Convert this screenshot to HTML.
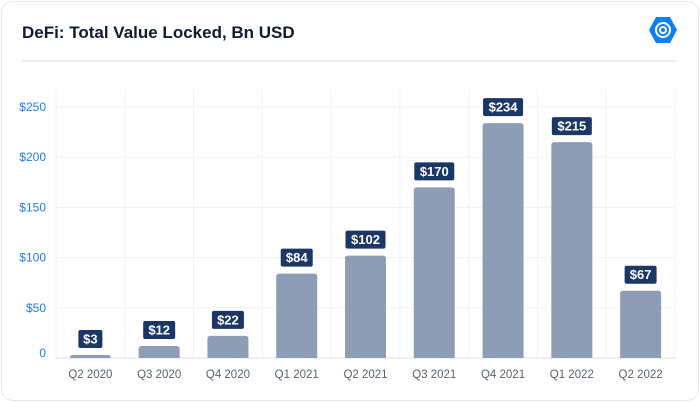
<!DOCTYPE html>
<html><head><meta charset="utf-8"><style>
body{margin:0;background:#fff;}
.card{position:absolute;left:1px;top:1px;width:696px;height:398px;border:1px solid #e6e8ec;border-radius:12px;background:#fff;}
</style></head><body>
<div class="card"></div>
<svg width="700" height="402" style="position:absolute;left:0;top:0" font-family="Liberation Sans, sans-serif">
<text x="22" y="38" font-size="17" font-weight="bold" fill="#111a33">DeFi: Total Value Locked, Bn USD</text>
<g>
<polygon points="656,17 670,17 677,30 670,43 656,43 649,30" fill="#0a80f5"/>
<circle cx="663" cy="30" r="7" fill="none" stroke="#fff" stroke-width="2"/>
<circle cx="663" cy="30" r="3" fill="none" stroke="#fff" stroke-width="2"/>
</g>
<line x1="22" y1="61" x2="676" y2="61" stroke="#eceef1" stroke-width="2"/>
<g id="grid"></g><g id="bars"></g>
</svg>
<script>
const categories=["Q2 2020","Q3 2020","Q4 2020","Q1 2021","Q2 2021","Q3 2021","Q4 2021","Q1 2022","Q2 2022"];
const values=[3,12,22,84,102,170,234,215,67];
const yTicks=[0,50,100,150,200,250];
const ns="http://www.w3.org/2000/svg";
const x0=56,x1=675,plotTop=90,base=358;
const bw=(x1-x0)/categories.length;
const y=v=>base-v*(base-107)/250;
const xc=i=>x0+bw*(i+0.5);
function mk(t,a,p){const e=document.createElementNS(ns,t);for(const k in a)e.setAttribute(k,a[k]);p.appendChild(e);return e;}
const g=document.getElementById('grid'),b=document.getElementById('bars');
for(let i=0;i<=categories.length;i++){const l=mk('line',{x1:x0+bw*i,x2:x0+bw*i,y1:plotTop,y2:base,stroke:'#f0f1f4'},g);

}
yTicks.forEach(t=>{if(t>0){const l=mk('line',{x1:x0,x2:x1,y1:y(t),y2:y(t),stroke:'#f0f1f4'},g);

}
const tx=mk('text',{x:46,y:t?y(t)+4:y(t)-1,'text-anchor':'end','font-size':12,fill:'#1b7ff0'},g);tx.textContent=t?'$'+t:'0';

});
const ax=mk('line',{x1:x0,x2:x1,y1:base,y2:base,stroke:'#dfe2e7'},g);


values.forEach((v,i)=>{const cx=xc(i);
const r=mk('path',{d:`M${cx-20.5},${base}V${y(v)+3}q0,-3 3,-3h35q3,0 3,3V${base}Z`,fill:'#8d9db5'},b);


const s='$'+v;const w=s.length*8+8;const by=y(v)-25;
const lb=mk('rect',{x:cx-w/2,y:by,width:w,height:18,rx:2,fill:'#1c3766'},b);


const lt=mk('text',{x:cx,y:by+13.5,'text-anchor':'middle','font-size':13,'font-weight':'bold',fill:'#fff'},b);lt.textContent=s;


const ct=mk('text',{x:cx,y:378,'text-anchor':'middle','font-size':11.5,fill:'#5a6270'},b);ct.textContent=categories[i];

});
</script>
</body></html>
